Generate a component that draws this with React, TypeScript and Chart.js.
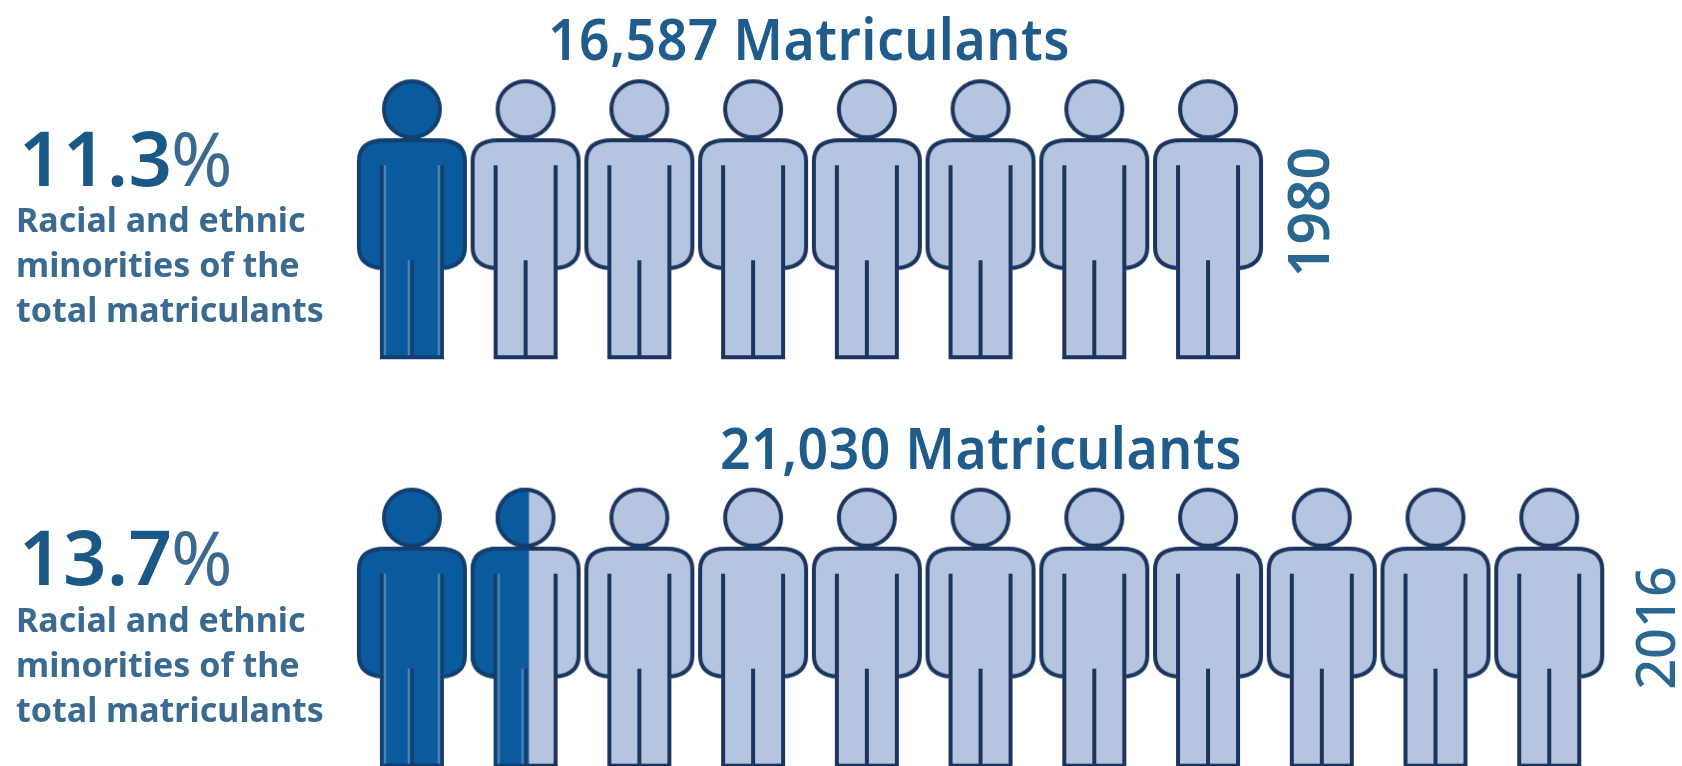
import React, { useEffect, useRef } from "react";
import { Chart, registerables } from "chart.js";

Chart.register(...registerables);

// ---- data ----
const years = ["1980", "2016"];
const matriculants = ["16,587", "21,030"];
const minorityShares = ["11.3", "13.7"];
const personCounts = [8, 11];
const filledPersons = [1, 1.53];
const shareCaption = ["Racial and ethnic", "minorities of the", "total matriculants"];

// ---- palette ----
const DARK_FILL = "#0a5a9e";
const LIGHT_FILL = "#b6c5df";
const OUTLINE = "#1c355f";
const DARK_OUTLINE = "#123f70";
const DARK_HIGHLIGHT = "#4a85b6";
const TITLE_COLOR = "#1f5c8b";
const CAPTION_COLOR = "#3a6a8f";
const PERCENT_COLOR = "#1a5888";
const PERCENT_SIGN_COLOR = "#3c6a8e";
const YEAR_COLOR = "#2a6791";

const WIDTH = 1682;
const HEIGHT = 766;

function outlinePath(ctx: CanvasRenderingContext2D) {
  ctx.beginPath();
  ctx.moveTo(-30, 280);
  ctx.lineTo(-30, 191);
  ctx.quadraticCurveTo(-53, 189, -53, 170);
  ctx.lineTo(-53, 84);
  ctx.quadraticCurveTo(-53, 63, -27, 63);
  ctx.lineTo(27, 63);
  ctx.quadraticCurveTo(53, 63, 53, 84);
  ctx.lineTo(53, 170);
  ctx.quadraticCurveTo(53, 189, 30, 191);
  ctx.lineTo(30, 280);
  ctx.closePath();
}

function headPath(ctx: CanvasRenderingContext2D) {
  ctx.beginPath();
  ctx.arc(0, 32, 28, 0, Math.PI * 2);
}

function shape(ctx: CanvasRenderingContext2D, fill: string) {
  ctx.fillStyle = fill;
  outlinePath(ctx);
  ctx.fill();
  headPath(ctx);
  ctx.fill();
}

function strokes(ctx: CanvasRenderingContext2D, color: string, highlight?: string) {
  ctx.lineWidth = 4;
  ctx.strokeStyle = color;
  headPath(ctx);
  ctx.stroke();
  outlinePath(ctx);
  ctx.stroke();
  ctx.beginPath();
  ctx.moveTo(-30, 88);
  ctx.lineTo(-30, 191);
  ctx.moveTo(30, 88);
  ctx.lineTo(30, 191);
  ctx.moveTo(0, 183);
  ctx.lineTo(0, 280);
  ctx.stroke();
  if (highlight) {
    ctx.lineWidth = 2.5;
    ctx.strokeStyle = highlight;
    ctx.beginPath();
    ctx.moveTo(-27, 88);
    ctx.lineTo(-27, 278);
    ctx.moveTo(27, 88);
    ctx.lineTo(27, 278);
    ctx.moveTo(-3, 183);
    ctx.lineTo(-3, 278);
    ctx.stroke();
  }
}

// The mark of one person, filled from the left by `fraction` of its width.
function personSprite(fraction: number): HTMLCanvasElement {
  const w = 120;
  const h = 286;
  const c = document.createElement("canvas");
  c.width = w;
  c.height = h;
  const ctx = c.getContext("2d")!;
  ctx.translate(w / 2, 2);
  const split = -55.5 + 111 * fraction;
  if (fraction < 1) {
    shape(ctx, LIGHT_FILL);
    strokes(ctx, OUTLINE);
  }
  if (fraction > 0) {
    ctx.save();
    ctx.beginPath();
    ctx.rect(-60, -2, 60 + split, h);
    ctx.clip();
    shape(ctx, DARK_FILL);
    strokes(ctx, DARK_OUTLINE, DARK_HIGHLIGHT);
    ctx.restore();
  }
  return c;
}

const points = personCounts.flatMap((count, row) =>
  Array.from({ length: count }, (_, i) => ({ x: i, y: row }))
);
const fractions = personCounts.flatMap((count, row) =>
  Array.from({ length: count }, (_, i) =>
    Math.max(0, Math.min(1, filledPersons[row] - i))
  )
);

const font = (weight: number, size: number) => `${weight} ${size}px "Noto Sans"`;

const textPlugin = {
  id: "pictogramText",
  afterDatasetsDraw(chart: Chart) {
    const { ctx } = chart;
    const put = (
      text: string,
      x: number,
      y: number,
      f: string,
      color: string,
      align: CanvasTextAlign = "left",
      spacing = "0px"
    ) => {
      ctx.font = f;
      ctx.fillStyle = color;
      ctx.textAlign = align;
      ctx.textBaseline = "alphabetic";
      (ctx as any).letterSpacing = spacing;
      ctx.fillText(text, x, y);
    };
    ctx.save();
    const titleX = [809, 981];
    const titleY = [60, 469];
    const pctY = [186, 585];
    const captionY = [232, 632];
    const yearX = [1329, 1675];
    const yearY = [212, 628];
    const yearSize = [57, 54];
    const yearWeight = [600, 500];
    years.forEach((year, row) => {
      ctx.save();
      ctx.translate(titleX[row], titleY[row]);
      ctx.scale(1, 1.08);
      put(`${matriculants[row]} Matriculants`, 0, 0, font(600, 53.5), TITLE_COLOR, "center", "0.5px");
      ctx.restore();
      put(minorityShares[row], 19, pctY[row], font(600, 76), PERCENT_COLOR, "left", "0.5px");
      put("%", 171, pctY[row], font(400, 74), PERCENT_SIGN_COLOR);
      shareCaption.forEach((line, i) => {
        put(line, 16, captionY[row] + i * 45, font(700, 34), CAPTION_COLOR);
      });
      ctx.save();
      ctx.translate(yearX[row], yearY[row]);
      ctx.rotate(-Math.PI / 2);
      put(year, 0, 0, font(yearWeight[row], yearSize[row]), YEAR_COLOR, "center");
      ctx.restore();
    });
    ctx.restore();
  },
};

export default function App() {
  const ref = useRef<HTMLCanvasElement>(null);
  useEffect(() => {
    document.body.style.margin = "0";
    const chart = new Chart(ref.current!, {
      type: "scatter",
      data: {
        datasets: [
          {
            label: "Matriculants",
            data: points,
            pointStyle: fractions.map(personSprite) as any,
            showLine: false,
            borderWidth: 0,
            pointRadius: 0.5,
            pointHoverRadius: 0,
            pointBorderWidth: 0,
            pointHoverBorderWidth: 0,
            clip: false,
          },
        ],
      },
      options: {
        animation: false,
        responsive: false,
        layout: { padding: 0 },
        plugins: { legend: { display: false }, tooltip: { enabled: false } },
        scales: {
          x: { type: "linear", display: false, min: -3.617, max: 11.163 },
          y: { type: "linear", display: false, reverse: true, min: -0.533, max: 1.34 },
        },
      },
      plugins: [textPlugin],
    });
    return () => chart.destroy();
  }, []);
  return (
    <canvas
      ref={ref}
      width={WIDTH}
      height={HEIGHT}
      style={{ display: "block", width: WIDTH, height: HEIGHT, filter: "blur(0.6px)" }}
    />
  );
}
